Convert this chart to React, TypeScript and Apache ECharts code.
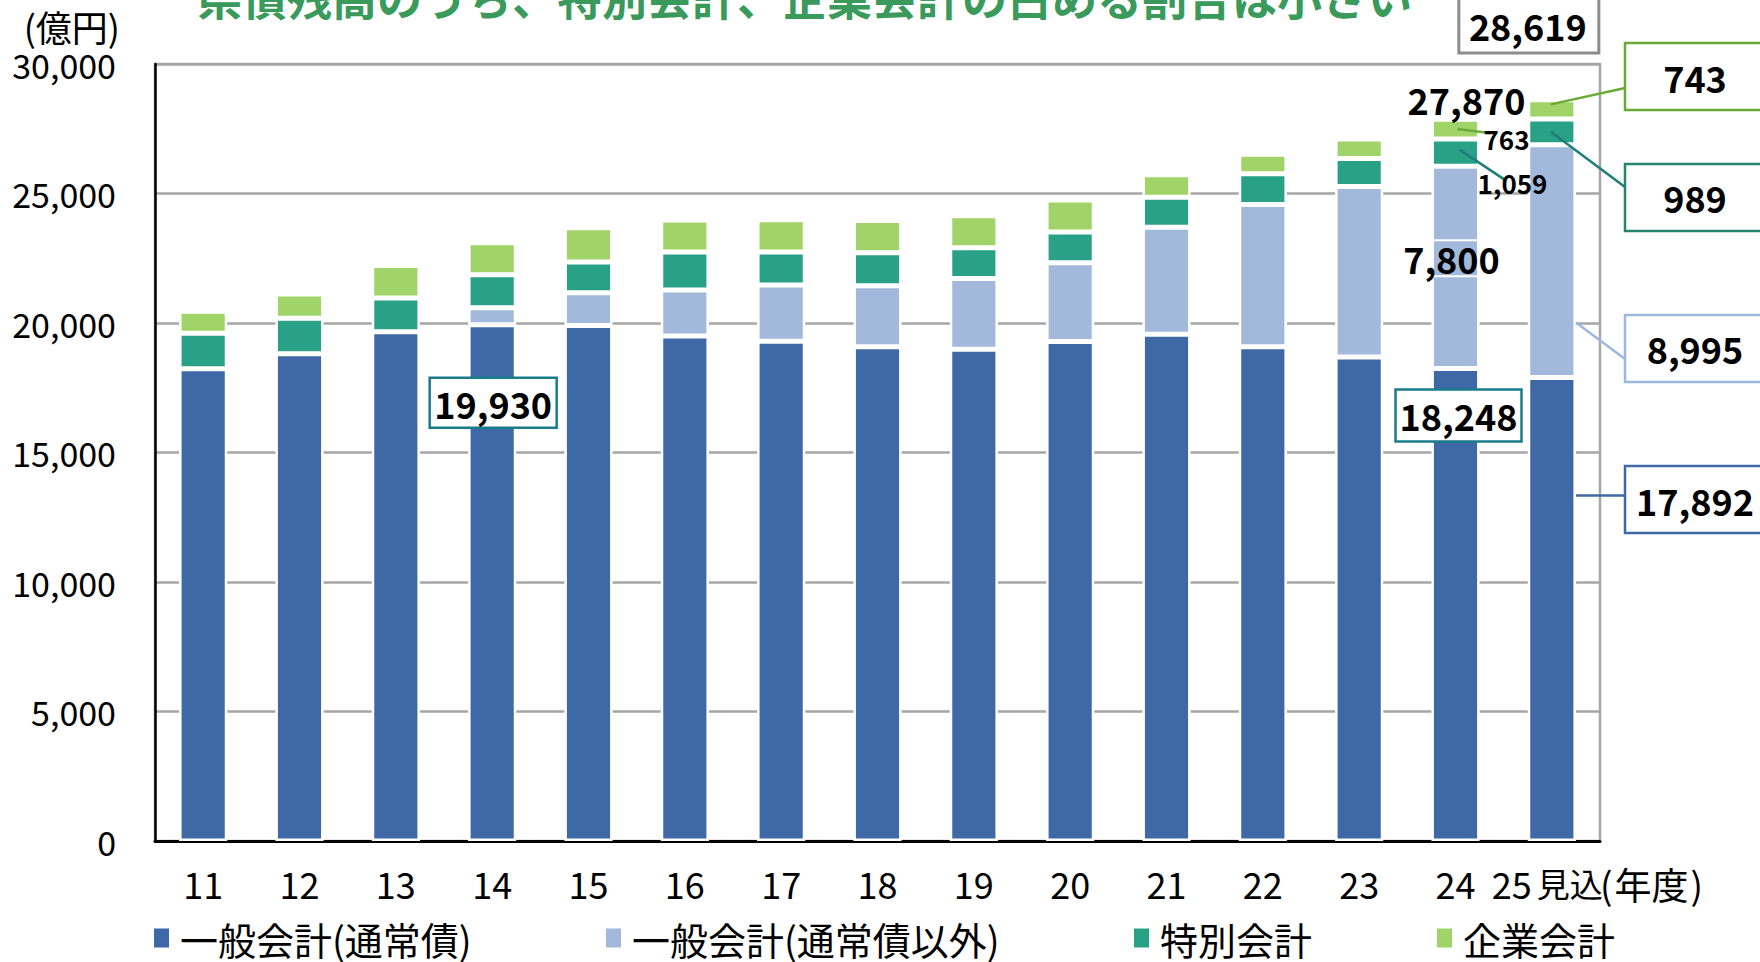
import React, { useEffect, useRef } from 'react';
import * as echarts from 'echarts';

// ---- data ----
const years = ['11', '12', '13', '14', '15', '16', '17', '18', '19', '20', '21', '22', '23', '24', '25見込'];
const generalRegular = [18230, 18810, 19660, 19930, 19900, 19500, 19300, 19080, 18990, 19290, 19570, 19080, 18690, 18248, 17892];
const generalOther = [0, 0, 0, 660, 1270, 1770, 2170, 2360, 2730, 3040, 4130, 5500, 6580, 7800, 8995];
const specialAccount = [1370, 1370, 1310, 1275, 1190, 1470, 1275, 1275, 1185, 1180, 1160, 1180, 1080, 1059, 989];
const enterpriseAccount = [850, 940, 1250, 1235, 1320, 1240, 1240, 1240, 1240, 1240, 860, 760, 750, 763, 743];
const seriesNames = ['一般会計(通常債)', '一般会計(通常債以外)', '特別会計', '企業会計'];
const yMin = 0;
const yMax = 30000;
const yInterval = 5000;
const titleText = '県債残高のうち、特別会計、企業会計の占める割合は小さい';
const unitText = '(億円)';
const yearUnitText = '年度';

// ---- styles ----
const FONT = "'Noto Sans CJK JP', 'Noto Sans', sans-serif";
const colors = ['#3E69A6', '#A2B9DB', '#28A186', '#A0D468'];
const legendLefts = [154, 606, 1134, 1437];

const fmt = (v: number) => v.toLocaleString('en-US');

export default function App() {
  const ref = useRef<HTMLDivElement>(null);
  useEffect(() => {
    document.body.style.margin = '0';
    document.body.style.overflow = 'hidden';
    const el = ref.current!;
    const chart = echarts.init(el, null, { renderer: 'svg' });
    const dataArrays = [generalRegular, generalOther, specialAccount, enterpriseAccount];

    chart.setOption({
      animation: false,
      textStyle: { fontFamily: FONT },
      grid: {
        left: 155, right: 160, top: 64, bottom: 121,
        show: true, borderColor: '#A6A6A6', borderWidth: 2.5, backgroundColor: 'transparent',
      },
      legend: seriesNames.map((n, k) => ({
        data: [n],
        left: legendLefts[k],
        top: 919,
        padding: 0,
        icon: 'rect',
        itemWidth: 15,
        itemHeight: 19,
        itemGap: 0,
        selectedMode: false,
        itemStyle: { borderWidth: 0 },
        textStyle: { fontSize: 38, color: '#000', fontFamily: FONT, padding: [0, 0, 0, 6] },
      })),
      xAxis: {
        type: 'category',
        data: years,
        axisLine: { show: true, lineStyle: { color: '#000', width: 3 } },
        axisTick: { show: false },
        axisLabel: {
          interval: 0,
          fontSize: 36,
          color: '#000',
          margin: 24,
          fontFamily: FONT,
          formatter: (v: string) => {
            const k = v.indexOf('見込');
            return k >= 0 ? `{n|${v.slice(0, k)}}{k|${v.slice(k)}}{p|}` : v;
          },
          rich: {
            n: { fontSize: 36, color: '#000', fontFamily: FONT, padding: [0, 5, 0, 0] },
            k: { fontSize: 33, color: '#000', fontFamily: FONT },
            p: { width: 9 },
          },
        },
      },
      yAxis: {
        type: 'value',
        min: yMin,
        max: yMax,
        interval: yInterval,
        axisLine: { show: true, lineStyle: { color: '#000', width: 2.5 } },
        axisTick: { show: false },
        axisLabel: {
          fontSize: 34, color: '#000', margin: 39, fontFamily: FONT,
          formatter: (v: number) => fmt(v),
        },
        splitLine: { show: true, lineStyle: { color: '#A6A6A6', width: 2.5 } },
      },
      series: seriesNames.map((name, k) => ({
        name,
        type: 'bar',
        stack: 'total',
        data: dataArrays[k],
        barWidth: '50%',
        itemStyle: { color: colors[k], borderColor: '#fff', borderWidth: 2.5 },
        emphasis: { disabled: true },
      })),
    });

    const px = (i: number, v: number) => chart.convertToPixel({ gridIndex: 0 }, [i, v]) as number[];
    const cum = (i: number, upto: number) => {
      let s = 0;
      for (let k = 0; k <= upto; k++) s += dataArrays[k][i];
      return s;
    };
    const i14 = years.indexOf('14');
    const i24 = years.indexOf('24');
    const i25 = years.length - 1;
    const c14 = px(i14, 0)[0];
    const c24 = px(i24, 0)[0];
    const c25 = px(i25, 0)[0];
    const plotRight = chart.getWidth() - 160;
    const boxLeft = plotRight + 25;
    const halfBar = (px(1, 0)[0] - px(0, 0)[0]) * 0.25;

    const g: any[] = [];
    const text = (x: number, y: number, t: string, fontSize: number, extra: any = {}) => ({
      type: 'text', x, y, z: 120,
      style: { text: t, fontSize, fontWeight: 'bold', fontFamily: FONT, fill: '#000', align: 'center', verticalAlign: 'middle', ...extra },
    });
    const rect = (x: number, y: number, w: number, h: number, stroke: string, lw = 2.5) => ({
      type: 'rect', z: 110, shape: { x, y, width: w, height: h },
      style: { fill: '#fff', stroke, lineWidth: lw },
    });
    const line = (x1: number, y1: number, x2: number, y2: number, stroke: string) => ({
      type: 'line', z: 115, shape: { x1, y1, x2, y2 }, style: { stroke, lineWidth: 2.5 },
    });

    // title (cut off at top)
    g.push({ type: 'text', x: 197, y: -4, z: 120, style: { text: titleText, fontSize: 45, fontWeight: 'bold', fontFamily: FONT, fill: '#3A9A5C', align: 'left', verticalAlign: 'middle' } });
    // unit
    g.push({ type: 'text', x: 120, y: 26, z: 120, style: { text: unitText, fontSize: 36, fontFamily: FONT, fill: '#000', align: 'right', verticalAlign: 'middle' } });
    // year unit
    g.push({
      type: 'text', x: 1598, y: 884, z: 120,
      style: {
        text: `{p|(}{k|${yearUnitText}}{p|)}`, fontFamily: FONT, fill: '#000', align: 'left', verticalAlign: 'middle',
        rich: {
          p: { fontSize: 37, fontFamily: FONT, fill: '#000', padding: [0, 2, 0, 2] },
          k: { fontSize: 37, fontFamily: FONT, fill: '#000' },
        },
      },
    });

    // 19,930 box (bar 14)
    {
      const y = px(i14, generalRegular[i14])[1] + 78;
      const cx = c14 + 1;
      g.push(rect(cx - 63.5, y - 25, 127, 50, '#1A7C8A'));
      g.push(text(cx, y, fmt(generalRegular[i14]), 36));
    }
    // 18,248 box (bar 24)
    {
      const y = px(i24, generalRegular[i24])[1] + 47;
      const cx = c24 + 3;
      g.push(rect(cx - 63, y - 26, 126, 52, '#1A7C8A'));
      g.push(text(cx, y, fmt(generalRegular[i24]), 36));
    }
    // 7,800 (bar 24 light)
    {
      const yTop = px(i24, cum(i24, 1))[1];
      const yBot = px(i24, cum(i24, 0))[1];
      g.push(text(c24 - 4, (yTop + yBot) / 2 - 9, fmt(generalOther[i24]), 36, { textBorderColor: '#fff', textBorderWidth: 2 }));
    }
    // 27,870 total
    {
      const total = cum(i24, 3);
      const y = px(i24, total)[1];
      g.push(text(c24 + 11, y - 20, fmt(total), 36));
    }
    // 763 (bar 24 green)
    {
      const yTop = px(i24, cum(i24, 3))[1];
      const yBot = px(i24, cum(i24, 2))[1];
      const mid = (yTop + yBot) / 2;
      g.push(line(c24 + 2, mid, c24 + 34, mid + 4, '#6AAB35'));
      g.push(text(c24 + 51, mid + 9, fmt(enterpriseAccount[i24]), 26));
    }
    // 1,059 (bar 24 teal)
    {
      const yTop = px(i24, cum(i24, 2))[1];
      const yBot = px(i24, cum(i24, 1))[1];
      const mid = (yTop + yBot) / 2;
      g.push(line(c24 + 4, mid - 3, c24 + 49, mid + 27, '#1E7F78'));
      g.push(text(c24 + 57, mid + 30, fmt(specialAccount[i24]), 26));
    }
    // 28,619 total box
    {
      const total = cum(i25, 3);
      g.push(rect(c25 - 93, -12, 140, 65, '#8C8C8C', 3));
      g.push(text(c25 - 24, 25, fmt(total), 36));
    }
    // right-hand boxes for bar 25
    {
      // 743
      const gTop = px(i25, cum(i25, 3))[1];
      const gBot = px(i25, cum(i25, 2))[1];
      g.push(line(c25 - 1, (gTop + gBot) / 2 - 5, boxLeft, 88, '#6AAB35'));
      g.push(rect(boxLeft, 43, 200, 67, '#6AAB35'));
      g.push(text(boxLeft + 70, 77, fmt(enterpriseAccount[i25]), 36));
      // 989
      const tTop = gBot;
      const tBot = px(i25, cum(i25, 1))[1];
      g.push(line(c25 - 1, (tTop + tBot) / 2, boxLeft, 187, '#1E7F78'));
      g.push(rect(boxLeft, 164, 200, 67, '#25846F'));
      g.push(text(boxLeft + 70, 197, fmt(specialAccount[i25]), 36));
      // 8,995
      const dTop = px(i25, cum(i25, 0))[1];
      g.push(line(c25 + halfBar, dTop - 55, boxLeft, 359, '#9DB8DE'));
      g.push(rect(boxLeft, 315, 200, 67, '#9DB8DE'));
      g.push(text(boxLeft + 70, 348, fmt(generalOther[i25]), 36));
      // 17,892
      g.push(line(c25 + halfBar, dTop + 118, boxLeft, dTop + 118, '#3E69A6'));
      g.push(rect(boxLeft, 466, 200, 67, '#3E69A6'));
      g.push(text(boxLeft + 70, 500, fmt(generalRegular[i25]), 36));
    }

    chart.setOption({ graphic: g });
    return () => chart.dispose();
  }, []);
  return <div ref={ref} style={{ width: 1760, height: 962 }} />;
}
